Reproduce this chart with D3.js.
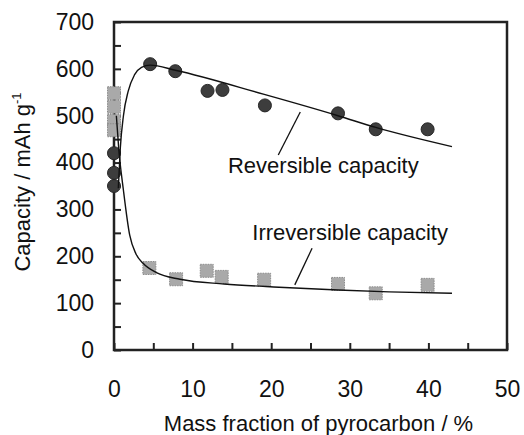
<!DOCTYPE html>
<html lang="en">
<head>
<meta charset="utf-8">
<style>
	body { margin: 0; background: #fff; }
	svg { display: block; font-family: "Liberation Sans", Arial, sans-serif; }
	.frame { fill: none; stroke: #222; stroke-width: 2.5px; }
	.axis .domain { display: none; }
	.axis line { stroke: #222; stroke-width: 2px; }
	.axis text { font-size: 23px; fill: #111; font-family: "Liberation Sans", Arial, sans-serif; }
	.fit { fill: none; stroke: #111; stroke-width: 1.4px; }
	.leader { stroke: #111; stroke-width: 1.3px; }
	.rev { fill: #3d3d3d; stroke: #262626; stroke-width: 1px; }
	.irr { fill: #a9a9a9; stroke: #8c8c8c; stroke-width: 1px; stroke-dasharray: 1.5 1; }
	.label { font-size: 22px; fill: #111; }
</style>
<script src="https://d3js.org/d3.v7.min.js"></script>
</head>
<body>
<script>
var width = 524, height = 435;

// measured points
var revX = [0, 0, 0, 4.6, 7.8, 11.9, 13.8, 19.2, 28.5, 33.3, 39.9];
var revY = [420, 378, 350, 610, 595, 553, 555, 522, 505, 471, 471];
var irrX = [0, 0, 0, 0, 4.5, 7.9, 11.8, 13.7, 19.1, 28.5, 33.3, 39.9];
var irrY = [548, 519, 489, 469, 175, 151, 169, 156, 150, 141, 121, 139];

// fitted curves
var revFitX = [0.55, 0.8, 1.2, 1.8, 2.6, 3.5, 4.6, 7.8, 19, 28.5, 33.3, 43];
var revFitY = [345, 430, 500, 552, 587, 603, 608, 597, 546, 500, 475, 434];
var irrFitX = [0.3, 0.6, 1.2, 2.0, 2.8, 3.7, 5.4, 8.4, 14, 21, 28.5, 35, 43];
var irrFitY = [500, 430, 341, 245, 205, 185, 165, 151, 141, 134, 128, 124, 121];

// axis ticks
var xTicks = [0, 5, 10, 15, 20, 25, 30, 35, 40, 45, 50];
var yTicks = [0, 50, 100, 150, 200, 250, 300, 350, 400, 450, 500, 550, 600, 650, 700];

// annotations
var labels = ["Reversible capacity", "Irreversible capacity"];
var labelX = [14.5, 17.6];
var labelY = [378, 235];
var leaderX = [[20.9, 23.7], [23.0, 25.2]];
var leaderY = [[416, 508], [139, 217]];

var x = d3.scaleLinear().domain([0, 50]).range([114, 507]);
var y = d3.scaleLinear().domain([0, 700]).range([350, 22]);

var svg = d3.select("body").append("svg")
	.attr("width", width)
	.attr("height", height);

// axes with inward ticks
svg.append("g")
	.attr("class", "axis")
	.attr("transform", "translate(" + x(0) + ",0)")
	.call(d3.axisLeft(y).tickValues(yTicks).tickSize(-7).tickPadding(20)
		.tickFormat(function(d) { return d % 100 === 0 ? d : ""; }));

svg.append("g")
	.attr("class", "axis")
	.attr("transform", "translate(0," + y(0) + ")")
	.call(d3.axisBottom(x).tickValues(xTicks).tickSize(-7).tickPadding(31)
		.tickFormat(function(d) { return d % 10 === 0 ? d : ""; }));

svg.append("rect")
	.attr("class", "frame")
	.attr("x", x(0))
	.attr("y", y(700))
	.attr("width", x(50) - x(0))
	.attr("height", y(0) - y(700));

// markers
svg.append("g").selectAll("circle")
	.data(revX)
	.enter().append("circle")
	.attr("class", "rev")
	.attr("cx", function(d) { return x(d); })
	.attr("cy", function(d, i) { return y(revY[i]); })
	.attr("r", 6.5);

var sq = 13;
svg.append("g").selectAll("rect")
	.data(irrX)
	.enter().append("rect")
	.attr("class", "irr")
	.attr("x", function(d) { return x(d) - sq / 2; })
	.attr("y", function(d, i) { return y(irrY[i]) - sq / 2; })
	.attr("width", sq)
	.attr("height", sq);

// fitted lines
var line = d3.line()
	.x(function(d) { return x(d[0]); })
	.y(function(d) { return y(d[1]); })
	.curve(d3.curveMonotoneX);

svg.append("path")
	.attr("class", "fit")
	.attr("d", line(d3.zip(revFitX, revFitY)));

svg.append("path")
	.attr("class", "fit")
	.attr("d", line(d3.zip(irrFitX, irrFitY)));

// labels and leader lines
labels.forEach(function(t, i) {
	svg.append("text")
		.attr("class", "label")
		.attr("x", x(labelX[i]))
		.attr("y", y(labelY[i]))
		.text(t);
	svg.append("line")
		.attr("class", "leader")
		.attr("x1", x(leaderX[i][0])).attr("y1", y(leaderY[i][0]))
		.attr("x2", x(leaderX[i][1])).attr("y2", y(leaderY[i][1]));
});

// axis titles
svg.append("text")
	.attr("class", "label")
	.attr("x", (x(0) + x(50)) / 2 + 8)
	.attr("y", 431)
	.attr("text-anchor", "middle")
	.text("Mass fraction of pyrocarbon / %");

var yt = svg.append("text")
	.attr("class", "label")
	.attr("text-anchor", "middle")
	.attr("transform", "translate(30,182) rotate(-90)");
yt.append("tspan").text("Capacity / mAh g");
yt.append("tspan").attr("dy", -9).style("font-size", "13px").text("-1");
</script>
</body>
</html>
